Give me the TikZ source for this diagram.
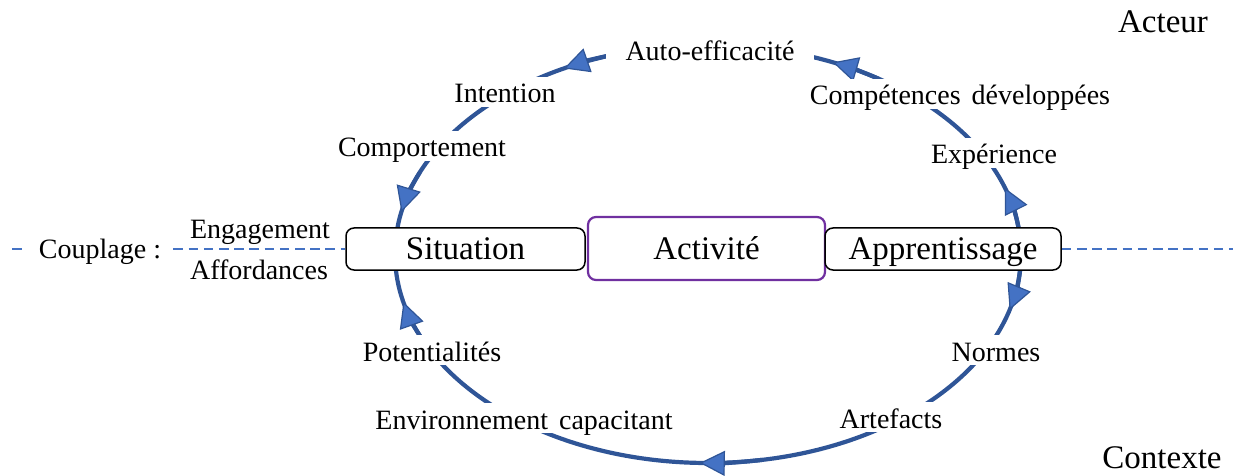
\documentclass[tikz,border=0pt]{standalone}
\usepackage{fontspec}
\setmainfont{Liberation Serif}
\usetikzlibrary{arrows.meta}
\definecolor{cycblue}{RGB}{47,85,151}
\definecolor{tipblue}{RGB}{68,114,196}
\definecolor{dashblue}{RGB}{68,114,196}
\definecolor{actpurple}{RGB}{112,48,160}
\begin{document}
\begin{tikzpicture}[x=0.5pt,y=-0.5pt,
  cyc/.style={draw=cycblue, line width=2.1pt},
  cyctip/.style={cyc, -{Triangle[length=12.5pt,width=12.5pt,fill=tipblue,line width=0.6pt]}},
  lbl/.style={font=\fontsize{14}{16}\selectfont, anchor=base, inner sep=0pt},
  clbl/.style={lbl, fill=white, text height=12pt, text depth=1pt, inner xsep=10pt, inner ysep=1pt},
  boxnode/.style={draw, rounded corners=4pt, fill=white, line width=0.75pt,
    font=\fontsize{16.5}{19}\selectfont, text height=13pt, text depth=2pt,
    minimum height=21pt, inner sep=0pt},
  big/.style={font=\fontsize{16.5}{19}\selectfont, anchor=base, inner sep=0pt},
  couple/.style={draw=dashblue, line width=1.2pt, dash pattern=on 4.8pt off 2.8pt}
]
\useasboundingbox (0,0) rectangle (1233,476);

% cycle
\draw[cyc] (708,254) ellipse [x radius=313, y radius=209];
\draw[cyctip] ([shift={(708,254)}]256:313 and 209) arc[start angle=256, end angle=242.6, x radius=313, y radius=209];
\draw[cyctip] ([shift={(708,254)}]203:313 and 209) arc[start angle=203, end angle=191.6, x radius=313, y radius=209];
\draw[cyctip] ([shift={(708,254)}]155:313 and 209) arc[start angle=155, end angle=166.7, x radius=313, y radius=209];
\draw[cyctip] ([shift={(708,254)}]80:313 and 209) arc[start angle=80, end angle=91.5, x radius=313, y radius=209];
\draw[cyctip] ([shift={(708,254)}]4:313 and 209) arc[start angle=4, end angle=15.5, x radius=313, y radius=209];
\draw[cyctip] ([shift={(708,254)}]353:313 and 209) arc[start angle=353, end angle=341.6, x radius=313, y radius=209];
\draw[cyctip] ([shift={(708,254)}]303:313 and 209) arc[start angle=303, end angle=293.5, x radius=313, y radius=209];

% boxes
\node[boxnode, minimum width=119.5pt] (sit) at (465.5,249) {Situation};
\node[boxnode, draw=actpurple, line width=1.1pt, minimum width=118.5pt, minimum height=31.5pt] (act) at (706.5,248.5) {Activité};
\node[boxnode, minimum width=118pt] (app) at (943,249) {Apprentissage};

% coupling line
\node[lbl, inner xsep=6pt] (cpl) at (100,258) {Couplage :};
\coordinate (L) at (12,249);
\coordinate (R) at (1233,249);
\draw[couple] (L) -- (L -| cpl.west);
\draw[couple] (sit.west -| cpl.east) -- (sit.west);
\draw[couple] (app.east) -- (R);
\node[lbl] (eng) at (260,239) {Engagement};
\node[lbl] (aff) at (259,279) {Affordances};

% cycle labels
\node[clbl] (auto) at (710,61) {Auto-efficacité};
\node[clbl] (int) at (505,103) {Intention};
\node[clbl] (comp) at (422,157) {Comportement};
\node[clbl] (cdev) at (960,105) {Compétences\hspace{5.5pt}développées};
\node[clbl] (exp) at (994,164) {Expérience};
\node[clbl] (norm) at (996,361) {Normes};
\node[clbl] (art) at (891,428) {Artefacts};
\node[clbl] (env) at (524,429) {Environnement\hspace{5.5pt}capacitant};
\node[clbl] (pot) at (432,361) {Potentialités};

% corner labels
\node[big] (act2) at (1163,33) {Acteur};
\node[big] (ctx) at (1162,468) {Contexte};
\end{tikzpicture}
\end{document}
